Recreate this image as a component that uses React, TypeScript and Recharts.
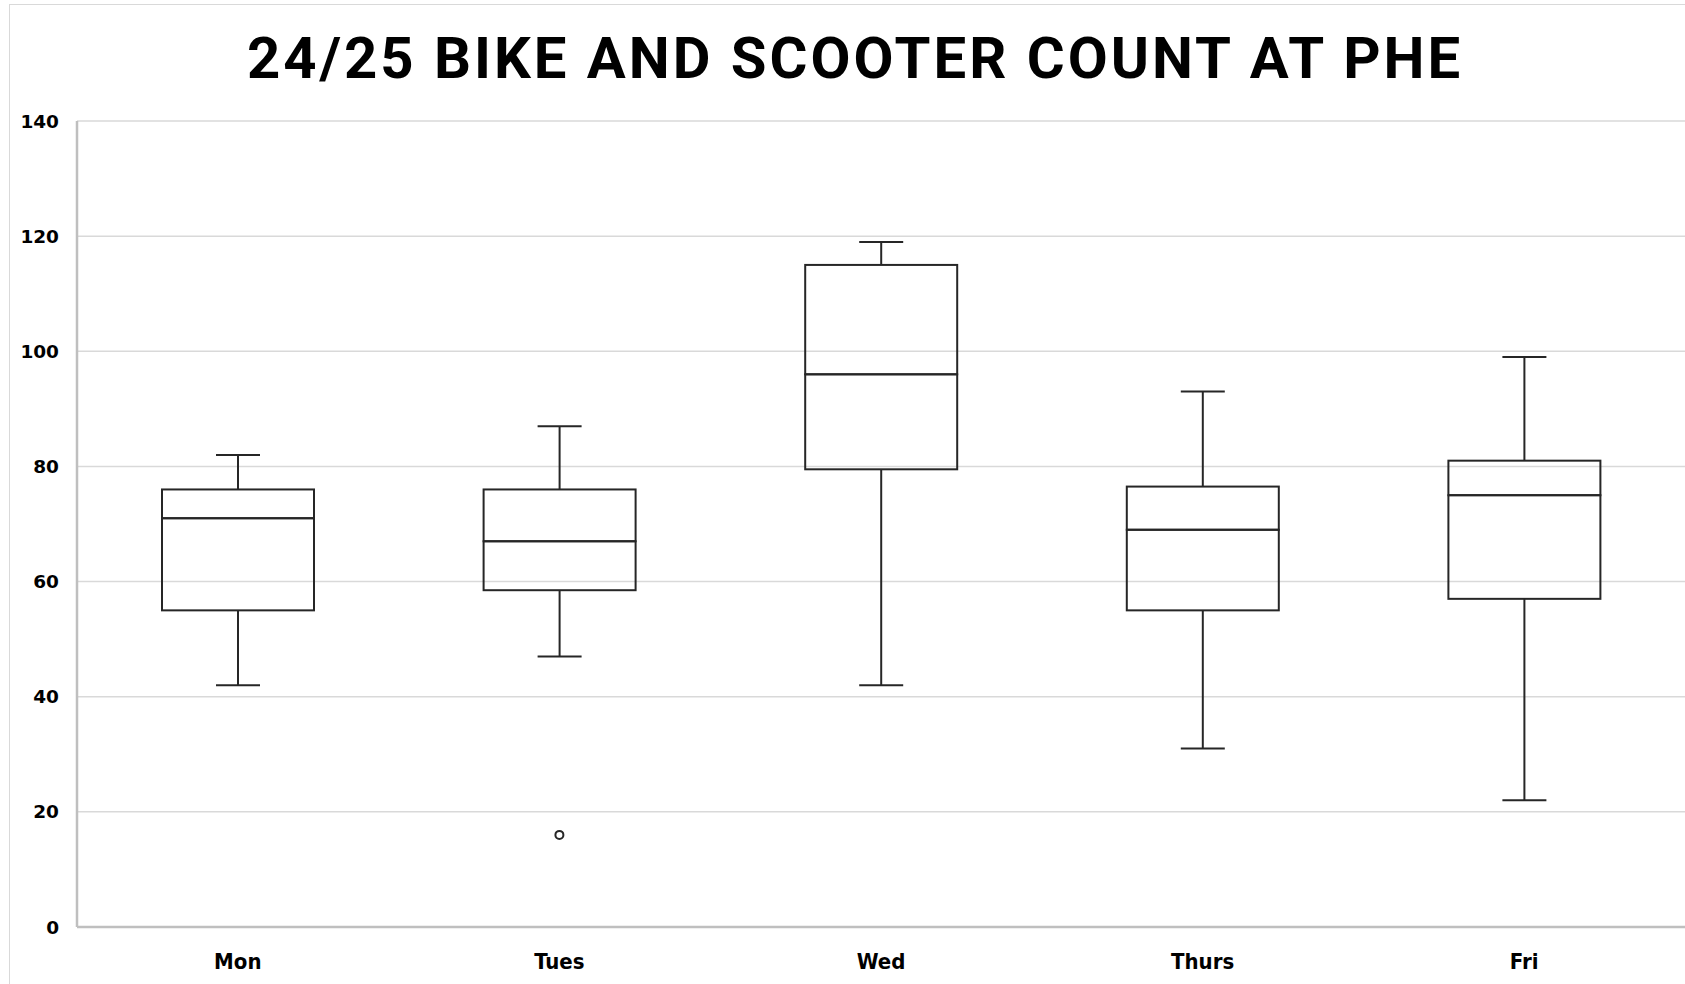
import { ComposedChart, Bar, Line, XAxis, YAxis, CartesianGrid } from 'recharts';

const days = ['Mon', 'Tues', 'Wed', 'Thurs', 'Fri'];
const mins = [42, 47, 42, 31, 22];
const q1s = [55, 58.5, 79.5, 55, 57];
const medians = [71, 67, 96, 69, 75];
const q3s = [76, 76, 115, 76.5, 81];
const maxes = [82, 87, 119, 93, 99];
const outliers: (number | null)[] = [null, 16, null, null, null];
const yTicks = [0, 20, 40, 60, 80, 100, 120, 140];

// stacked segments for the box plot, built from the five-number summaries
const rows = days.map((day, i) => ({
    day,
    base: mins[i],
    lowWhisker: q1s[i] - mins[i],
    lowBox: medians[i] - q1s[i],
    highBox: q3s[i] - medians[i],
    highWhisker: maxes[i] - q3s[i],
    outlier: outliers[i],
}));

const INK = '#262626';

const LowWhisker = (props: any) => {
    const { x, y, width, height } = props;
    const cx = x + width / 2;
    return (
        <g>
            <line x1={cx} x2={cx} y1={y} y2={y + height} stroke={INK} strokeWidth={2} />
            <line x1={cx - 22} x2={cx + 22} y1={y + height} y2={y + height} stroke={INK} strokeWidth={2} />
        </g>
    );
};

const HighWhisker = (props: any) => {
    const { x, y, width, height } = props;
    const cx = x + width / 2;
    return (
        <g>
            <line x1={cx} x2={cx} y1={y} y2={y + height} stroke={INK} strokeWidth={2} />
            <line x1={cx - 22} x2={cx + 22} y1={y} y2={y} stroke={INK} strokeWidth={2} />
        </g>
    );
};

const BoxPart = (props: any) => {
    const { x, y, width, height } = props;
    return <rect x={x} y={y} width={width} height={height} fill="none" stroke={INK} strokeWidth={2} />;
};

const OutlierDot = (props: any) => {
    const { cx, cy, payload } = props;
    if (payload.outlier == null || cy == null) return <g key={props.index} />;
    return <circle key={props.index} cx={cx} cy={cy} r={4} fill="#fff" stroke={INK} strokeWidth={2} />;
};

const DayTick = (props: any) => {
    const { x, y, payload } = props;
    return (
        <text
            x={x}
            y={y}
            dy={20}
            textAnchor="middle"
            fill="#000"
            fontFamily="'DejaVu Sans Condensed', 'DejaVu Sans'"
            fontWeight="bold"
            fontSize={22}
        >
            {payload.value}
        </text>
    );
};

export default function App() {
    return (
        <div style={{ position: 'fixed', left: 0, top: 0, width: 1685, height: 984, background: '#fff', overflow: 'hidden' }}>
            <div
                style={{
                    position: 'absolute',
                    left: 9,
                    top: 4,
                    width: 1720,
                    height: 1020,
                    borderTop: '1.5px solid #d9d9d9',
                    borderLeft: '1.5px solid #d9d9d9',
                }}
            />
            <div
                style={{
                    position: 'absolute',
                    left: 0,
                    top: 29,
                    width: 1710,
                    textAlign: 'center',
                    fontFamily: 'Roboto, sans-serif',
                    fontWeight: 700,
                    fontSize: 58,
                    lineHeight: 1,
                    letterSpacing: 3,
                    color: '#000',
                    whiteSpace: 'nowrap',
                }}
            >
                24/25 BIKE AND SCOOTER COUNT AT PHE
            </div>
            <div style={{ position: 'absolute', left: 0, top: 0 }}>
                <ComposedChart
                    width={1685}
                    height={984}
                    data={rows}
                    margin={{ top: 121, right: 0, bottom: 0, left: 0 }}
                >
                    <CartesianGrid vertical={false} stroke="#d9d9d9" strokeWidth={1.5} />
                    <XAxis
                        dataKey="day"
                        height={57}
                        tickLine={false}
                        tickSize={0}
                        tickMargin={22}
                        axisLine={{ stroke: '#bfbfbf', strokeWidth: 2.5 }}
                        tick={<DayTick />}
                    />
                    <YAxis
                        width={77}
                        domain={[0, 140]}
                        ticks={yTicks}
                        tickLine={false}
                        tickSize={0}
                        tickMargin={18}
                        axisLine={{ stroke: '#bfbfbf', strokeWidth: 2.5 }}
                        tick={{ fill: '#000', fontFamily: 'DejaVu Sans', fontWeight: 'bold', fontSize: 18.5 }}
                    />
                    <Bar dataKey="base" stackId="box" barSize={152} fill="none" shape={() => <g />} isAnimationActive={false} />
                    <Bar dataKey="lowWhisker" stackId="box" barSize={152} shape={<LowWhisker />} isAnimationActive={false} />
                    <Bar dataKey="lowBox" stackId="box" barSize={152} shape={<BoxPart />} isAnimationActive={false} />
                    <Bar dataKey="highBox" stackId="box" barSize={152} shape={<BoxPart />} isAnimationActive={false} />
                    <Bar dataKey="highWhisker" stackId="box" barSize={152} shape={<HighWhisker />} isAnimationActive={false} />
                    <Line
                        dataKey="outlier"
                        stroke="none"
                        dot={<OutlierDot />}
                        activeDot={false}
                        connectNulls={false}
                        isAnimationActive={false}
                    />
                </ComposedChart>
            </div>
        </div>
    );
}
